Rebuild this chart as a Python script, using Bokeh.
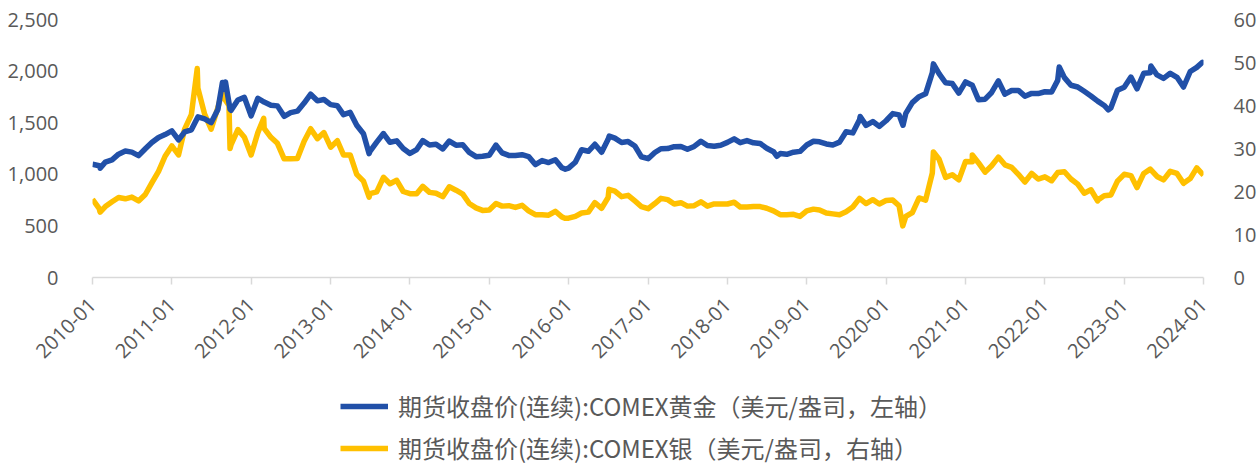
import math
import pandas as pd
from bokeh.plotting import figure
from bokeh.layouts import column
from bokeh.models import (Range1d, LinearAxis, FixedTicker, NumeralTickFormatter,
                          DatetimeTickFormatter, Legend, LegendItem, ColumnDataSource)
from bokeh.embed import file_html
from bokeh.resources import INLINE

# ---------------- data ----------------
start_month = "2010-01-01"
end_month = "2024-01-01"

# COMEX gold, USD/oz, first of each month 2010-01 .. 2024-01
gold_monthly = [
    1097, 1083, 1118, 1140, 1195, 1225, 1215, 1181, 1248, 1308, 1357, 1385,
    1421, 1333, 1410, 1431, 1556, 1536, 1500, 1628, 1826, 1620, 1720, 1745,
    1566, 1737, 1700, 1669, 1663, 1562, 1598, 1612, 1690, 1776, 1712, 1725,
    1675, 1664, 1578, 1600, 1476, 1393, 1223, 1312, 1395, 1310, 1324, 1250,
    1202, 1240, 1326, 1284, 1291, 1246, 1322, 1282, 1287, 1212, 1171, 1175,
    1184, 1283, 1208, 1183, 1182, 1190, 1172, 1094, 1133, 1114, 1141, 1064,
    1060, 1117, 1238, 1223, 1291, 1214, 1339, 1350, 1308, 1317, 1274, 1170,
    1151, 1211, 1248, 1249, 1268, 1269, 1242, 1270, 1320, 1279, 1272, 1282,
    1309, 1344, 1307, 1327, 1305, 1298, 1253, 1219, 1201, 1194, 1214, 1222,
    1284, 1320, 1315, 1294, 1284, 1312, 1413, 1401, 1529, 1474, 1511, 1464,
    1519, 1588, 1576, 1591, 1695, 1752, 1780, 1985, 1975, 1887, 1879, 1787,
    1895, 1863, 1723, 1728, 1793, 1905, 1776, 1812, 1813, 1757, 1784, 1782,
    1800, 1798, 1910, 1937, 1863, 1846, 1804, 1759, 1709, 1667, 1645, 1815,
    1844, 1942, 1828, 1979, 1983, 1963, 1929, 1979, 1940, 1846, 1996, 2036,
    2063,
]
gold_extra_dates = ["2010-02-05", "2011-08-22", "2011-09-05", "2011-09-26", "2013-06-27",
                    "2015-12-17", "2016-07-06", "2018-08-16", "2019-09-04", "2020-03-19",
                    "2020-08-06", "2022-03-08", "2022-10-20", "2023-05-04", "2023-12-27"]
gold_extra_vals = [1060, 1890, 1895, 1630, 1200,
                   1050, 1370, 1175, 1560, 1475,
                   2070, 2040, 1625, 2050, 2085]

# COMEX silver, USD/oz, first of each month 2010-01 .. 2024-01
silver_monthly = [
    18.2, 16.0, 16.5, 17.6, 18.6, 18.3, 18.7, 17.8, 19.3, 22.0, 24.7, 28.2,
    30.6, 28.5, 34.5, 37.9, 44.0, 38.0, 34.5, 39.5, 41.5, 30.9, 34.4, 32.6,
    28.5, 33.7, 34.7, 32.6, 31.2, 27.6, 27.6, 27.7, 31.7, 34.6, 32.3, 33.7,
    30.3, 31.8, 28.5, 28.5, 24.0, 22.4, 19.5, 19.9, 23.3, 21.8, 22.6, 20.0,
    19.5, 19.5, 21.2, 19.8, 19.6, 18.8, 21.1, 20.3, 19.4, 17.2, 16.2, 15.6,
    15.7, 17.2, 16.6, 16.7, 16.3, 16.8, 15.5, 14.6, 14.6, 14.5, 15.4, 14.1,
    13.8, 14.2, 15.0, 15.2, 17.4, 16.1, 18.6, 20.1, 18.8, 19.1, 17.8, 16.5,
    16.0, 17.2, 18.4, 18.1, 17.1, 17.4, 16.6, 16.7, 17.6, 16.6, 17.1, 17.1,
    17.1, 17.5, 16.4, 16.4, 16.5, 16.5, 16.1, 15.5, 14.6, 14.6, 14.7, 14.2,
    15.5, 15.9, 15.7, 15.0, 14.8, 14.6, 15.3, 16.4, 18.4, 17.2, 18.1, 17.1,
    17.9, 18.0, 16.7, 14.2, 15.1, 18.5, 18.0, 24.3, 27.5, 23.3, 23.9, 22.7,
    27.0, 26.9, 26.7, 24.5, 26.0, 28.0, 26.2, 25.6, 24.0, 22.2, 24.2, 22.9,
    23.4, 22.5, 24.4, 24.6, 22.9, 21.7, 19.6, 20.4, 18.0, 19.0, 19.2, 22.4,
    24.0, 23.7, 20.9, 24.2, 25.2, 23.5, 22.7, 24.7, 24.2, 21.9, 23.0, 25.5,
    23.8,
]
silver_extra_dates = ["2010-02-05", "2011-04-28", "2011-08-22", "2011-09-21", "2011-09-26",
                      "2012-02-28", "2013-06-27", "2015-12-15", "2016-07-05", "2020-03-18",
                      "2020-08-06", "2021-02-01", "2022-09-01"]
silver_extra_vals = [15.2, 48.6, 43.5, 40.0, 30.0,
                     37.0, 18.7, 13.8, 20.5, 12.0,
                     29.2, 28.5, 17.8]

tick_years = list(range(2010, 2025))
left_ticks = [0, 500, 1000, 1500, 2000, 2500]
right_ticks = [0, 10, 20, 30, 40, 50, 60]

gold_label = "期货收盘价(连续):COMEX黄金（美元/盎司，左轴）"
silver_label = "期货收盘价(连续):COMEX银（美元/盎司，右轴）"

# ---------------- build ----------------
months = list(pd.date_range(start_month, end_month, freq="MS"))

def series(monthly, extra_d, extra_v):
    df = pd.DataFrame({"date": months + list(pd.to_datetime(extra_d)),
                       "v": list(monthly) + list(extra_v)})
    return ColumnDataSource(df.sort_values("date"))

gsrc = series(gold_monthly, gold_extra_dates, gold_extra_vals)
ssrc = series(silver_monthly, silver_extra_dates, silver_extra_vals)

BLUE = "#2150A8"
GOLD = "#FFC000"
GRAY = "#595959"
FONT = "Open Sans"
LW = 5.5

p = figure(width=1259, height=367, x_axis_type="datetime",
           x_range=Range1d(pd.Timestamp(start_month), pd.Timestamp(end_month)),
           y_range=Range1d(0, 2500),
           output_backend="svg", toolbar_location=None,
           min_border_left=92, min_border_right=52, min_border_top=19,
           min_border_bottom=90)
p.outline_line_color = None
p.xgrid.visible = False
p.ygrid.visible = False
p.extra_y_ranges = {"silver": Range1d(0, 60)}

rs = p.line("date", "v", source=ssrc, y_range_name="silver", color=GOLD, line_width=LW,
            line_join="round")
rg = p.line("date", "v", source=gsrc, color=BLUE, line_width=LW, line_join="round")

# x axis
xa = p.xaxis[0]
xa.ticker = FixedTicker(ticks=[pd.Timestamp(f"{y}-01-01").timestamp() * 1000 for y in tick_years])
fmt = "%Y-%m"
xa.formatter = DatetimeTickFormatter(years=fmt, months=fmt, days=fmt, hours=fmt,
                                     minutes=fmt, seconds=fmt, milliseconds=fmt,
                                     microseconds=fmt, minsec=fmt, hourmin=fmt)
xa.major_label_orientation = math.pi / 4
xa.axis_line_color = "#d9d9d9"
xa.axis_line_width = 1.5
xa.major_tick_line_color = "#d9d9d9"
xa.major_tick_line_width = 1.5
xa.major_tick_out = 7
xa.major_tick_in = 0
xa.minor_tick_line_color = None
xa.major_label_text_font = FONT
xa.major_label_text_font_size = "20px"
xa.major_label_text_color = GRAY
xa.major_label_standoff = 17

# left axis
ya = p.yaxis[0]
ya.ticker = FixedTicker(ticks=left_ticks)
ya.formatter = NumeralTickFormatter(format="0,0")
ya.axis_line_color = None
ya.major_tick_line_color = None
ya.minor_tick_line_color = None
ya.major_label_text_font = FONT
ya.major_label_text_font_size = "20px"
ya.major_label_text_color = GRAY
ya.major_label_standoff = 28

# right axis
ra = LinearAxis(y_range_name="silver", ticker=FixedTicker(ticks=right_ticks))
ra.axis_line_color = None
ra.major_tick_line_color = None
ra.minor_tick_line_color = None
ra.major_label_text_font = FONT
ra.major_label_text_font_size = "20px"
ra.major_label_text_color = GRAY
ra.major_label_standoff = 24
p.add_layout(ra, "right")

# ---------------- legend strip below the chart ----------------
lf = figure(width=1259, height=100, x_range=Range1d(0, 1), y_range=Range1d(0, 1),
            output_backend="svg", toolbar_location=None, min_border=0)
lf.axis.visible = False
lf.grid.visible = False
lf.outline_line_color = None
nan_src = ColumnDataSource(dict(x=[float("nan")], y=[float("nan")]))
lg = lf.line("x", "y", source=nan_src, color=BLUE, line_width=LW)
ls = lf.line("x", "y", source=nan_src, color=GOLD, line_width=LW)

legend = Legend(items=[LegendItem(label=gold_label, renderers=[lg]),
                       LegendItem(label=silver_label, renderers=[ls])],
                orientation="vertical", location=(248, 2))
legend.border_line_color = None
legend.background_fill_alpha = 0
legend.label_text_font = "Noto Sans CJK SC"
legend.label_text_font_size = "24px"
legend.label_text_color = GRAY
legend.glyph_width = 48
legend.glyph_height = 24
legend.label_height = 24
legend.label_standoff = 10
legend.spacing = 7
legend.padding = 0
legend.margin = 0
lf.add_layout(legend, "center")

layout = column(p, lf, spacing=0)
open("out.html", "w").write(file_html(layout, INLINE))
